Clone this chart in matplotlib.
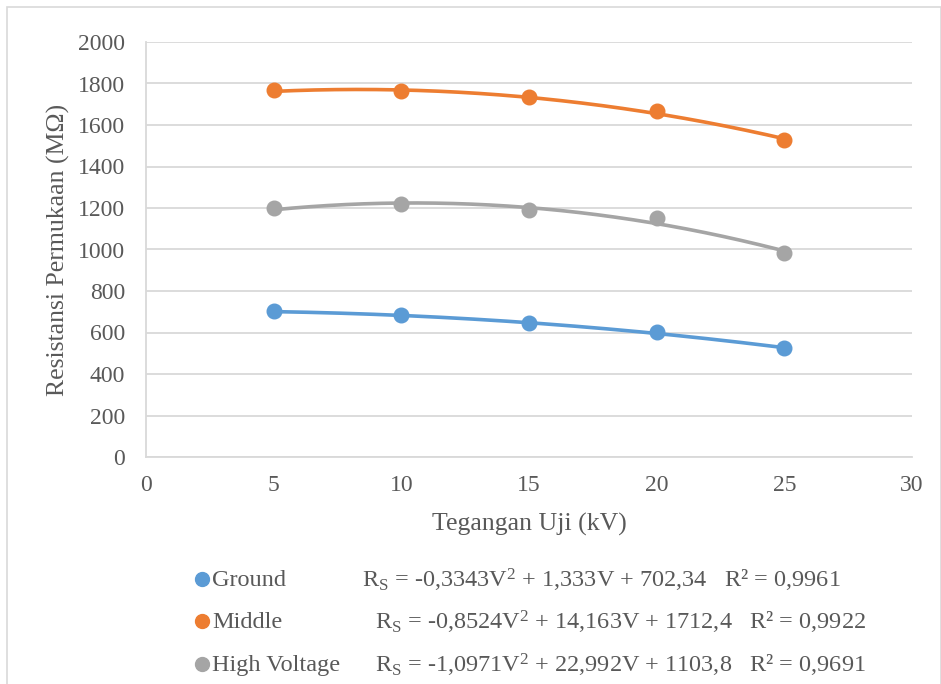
import matplotlib.pyplot as plt
import matplotlib
import numpy as np

matplotlib.rcParams.update({'font.family': 'Liberation Serif'})
matplotlib.rcParams.update({'mathtext.fontset': 'custom'})
matplotlib.rcParams.update({'mathtext.rm': 'Liberation Serif'})
matplotlib.rcParams.update({'mathtext.it': 'Liberation Serif:italic'})

tegangan = [5, 10, 15, 20, 25]
ground = [703, 684, 644, 603, 524]
middle = [1768, 1762, 1733, 1667, 1528]
high_voltage = [1200, 1217, 1191, 1152, 982]

names = ['Ground', 'Middle', 'High Voltage']
colors = ['#5B9BD5', '#ED7D31', '#A5A5A5']

# koefisien trendline polinomial orde 2 (a, b, c) dan R²
coef = [
    (-0.3343, 1.333, 702.34),
    (-0.8524, 14.163, 1712.4),
    (-1.0971, 22.992, 1103.8),
]
coef_text = [
    ('-0,3343', '1,333', '702,34'),
    ('-0,8524', '14,163', '1712,4'),
    ('-1,0971', '22,992', '1103,8'),
]
r2_text = ['0,9961', '0,9922', '0,9691']

W, H = 941, 684
fig = plt.figure(figsize=(W / 100, H / 100), dpi=100)
ax = fig.add_axes([146 / W, 1 - 457 / H, (912 - 146) / W, (457 - 42) / H])

# bingkai area grafik
fig.patches.append(plt.Rectangle((7 / W, -0.05), (W - 7) / W, 1 - 7 / H + 0.05,
                                 transform=fig.transFigure, fill=False,
                                 edgecolor='#D9D9D9', linewidth=1.2))

v = np.linspace(5, 25, 200)
for data, c, col in zip([ground, middle, high_voltage], coef, colors):
    a, b, k = c
    ax.plot(v, a * v ** 2 + b * v + k, color=col, linewidth=2.6, zorder=2)
    ax.plot(tegangan, data, 'o', color=col, markersize=10.5, zorder=3)

ax.set_xlim(0, 30)
ax.set_ylim(0, 2000)
ax.set_xticks(range(0, 31, 5))
ax.set_yticks(range(0, 2001, 200))
ax.grid(axis='y', color='#D9D9D9', linewidth=1.3)
ax.set_axisbelow(True)
for s in ['top', 'right']:
    ax.spines[s].set_visible(False)
ax.spines['left'].set_color('#D9D9D9')
ax.spines['bottom'].set_color('#D9D9D9')
ax.spines['left'].set_linewidth(1.3)
ax.spines['bottom'].set_linewidth(1.3)
ax.tick_params(length=0, labelsize=17, colors='#595959')
ax.tick_params(axis='x', pad=13)
ax.tick_params(axis='y', pad=15)

ax.set_xlabel('Tegangan Uji (kV)', fontsize=18.5, color='#595959', labelpad=12)
ax.set_ylabel('Resistansi Permukaan (MΩ)', fontsize=18.5, color='#595959', labelpad=6)

# legenda dengan persamaan trendline
rows_y = [580, 622, 665]
eq_x = [362, 375, 375]
for i in range(3):
    y = 1 - rows_y[i] / H
    fig.lines.append(matplotlib.lines.Line2D([202 / W], [1 - (rows_y[i] - 1) / H], marker='o',
                                             markersize=10, color=colors[i],
                                             transform=fig.transFigure))
    fig.text(212 / W, y, names[i], fontsize=17.5, color='#595959', va='center')
    a, b, k = coef_text[i]
    eq = r'R$_\mathrm{S}$ = ' + a + r'V$^\mathrm{2}$ + ' + b + 'V + ' + k + '   R² = ' + r2_text[i]
    fig.text(eq_x[i] / W, y, eq, fontsize=17.5, color='#595959', va='center')

plt.savefig('out.png', dpi=100)
